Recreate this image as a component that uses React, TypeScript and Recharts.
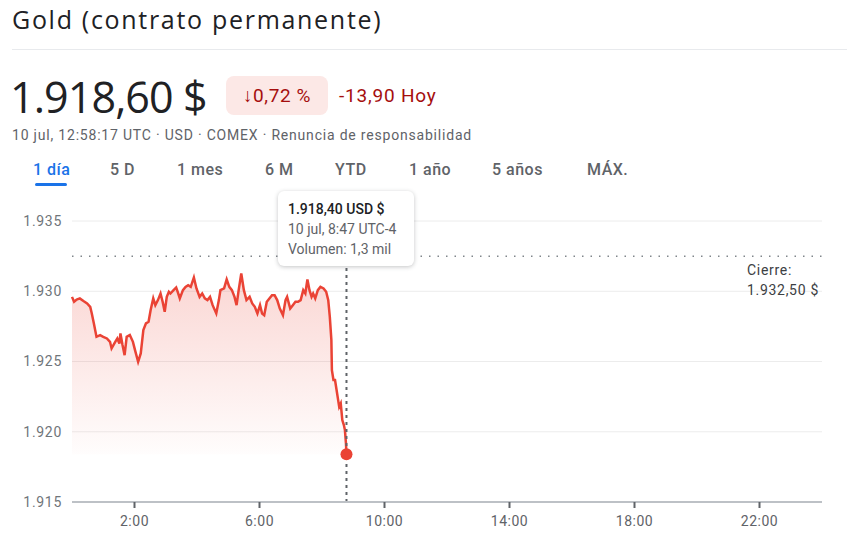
import React from 'react';
import {
  ComposedChart,
  Area,
  XAxis,
  YAxis,
  CartesianGrid,
  ReferenceLine,
  ReferenceDot,
} from 'recharts';

// minutes since 0:00 (10 jul)
const times = [
  0, 4, 9, 15, 22, 29, 35, 38, 42, 47, 54, 60, 67, 73, 76, 83, 87, 91, 93, 97,
  101, 105, 111, 117, 121, 127, 132, 137, 142, 147, 151, 156, 160, 165, 170, 174, 178, 182, 186, 189,
  195, 200, 204, 207, 213, 218, 223, 228, 234, 239, 245, 250, 255, 260, 265, 270, 277, 282, 285, 292,
  297, 302, 307, 312, 316, 320, 325, 330, 335, 341, 346, 351, 356, 361, 365, 369, 374, 379, 384, 389,
  394, 399, 405, 410, 413, 419, 424, 429, 434, 439, 444, 448, 452, 456, 460, 463, 467, 472, 477, 483,
  488, 492, 495, 498, 499, 502, 505, 508, 511, 513, 516, 519, 522, 524, 526, 527,
];

const prices = [
  1929.6, 1929.25, 1929.41, 1929.49, 1929.3, 1929.13, 1928.89, 1928.42, 1927.71, 1926.76,
  1926.88, 1926.76, 1926.64, 1926.4, 1925.93, 1926.4, 1926.64, 1926.28, 1927.0, 1926.17,
  1925.45, 1926.76, 1926.88, 1926.4, 1925.81, 1924.98, 1925.57, 1927.23, 1927.71, 1927.83,
  1928.66, 1929.49, 1929.01, 1929.37, 1929.84, 1929.25, 1928.54, 1929.6, 1929.96, 1929.84,
  1930.08, 1930.27, 1929.84, 1929.49, 1930.08, 1930.31, 1930.43, 1930.31, 1930.98, 1930.2,
  1929.6, 1929.84, 1929.49, 1929.37, 1929.6, 1929.01, 1928.42, 1929.37, 1930.08, 1930.2,
  1930.84, 1930.31, 1930.08, 1929.6, 1929.01, 1930.08, 1931.26, 1930.08, 1929.37, 1929.6,
  1929.13, 1928.89, 1928.42, 1929.01, 1928.42, 1928.3, 1929.25, 1929.49, 1929.72, 1929.72,
  1929.37, 1928.77, 1928.3, 1929.37, 1929.6, 1928.77, 1929.01, 1929.25, 1929.25, 1929.37,
  1930.08, 1929.84, 1930.84, 1930.08, 1929.6, 1929.84, 1929.49, 1930.08, 1930.31, 1930.2,
  1929.96, 1929.37, 1928.18, 1926.52, 1924.39, 1923.68, 1923.68, 1922.97, 1922.25, 1921.78,
  1922.02, 1920.83, 1920.48, 1920.12, 1919.17, 1918.4,
];

const xTicks = [120, 360, 600, 840, 1080, 1320];
const yTicks = [1915, 1920, 1925, 1930, 1935];
const prevClose = 1932.5;

const tabs = ['1 día', '5 D', '1 mes', '6 M', 'YTD', '1 año', '5 años', 'MÁX.'];
const tabX = [33, 110, 177, 265, 335, 409, 492, 587];

const data = times.map((t, i) => ({ t, price: prices[i] }));
const last = data[data.length - 1];

const RED = '#ea4335';
const FONT = 'Roboto, "Open Sans", sans-serif';

export default function App() {
  return (
    <div style={{ position: 'absolute', left: 0, top: 0, width: 847, height: 552, background: '#fff', fontFamily: FONT, overflow: 'hidden' }}>
      <div style={{ position: 'absolute', left: 12, top: 2, fontSize: 25, letterSpacing: 1.7, color: '#202124', fontFamily: '"Open Sans", sans-serif', whiteSpace: 'nowrap' }}>
        Gold (contrato permanente)
      </div>
      <div style={{ position: 'absolute', left: 12, top: 49, width: 835, height: 1, background: '#e8eaed' }} />

      <div style={{ position: 'absolute', left: 10, top: 69, fontSize: 43, letterSpacing: -0.9, color: '#202124', fontFamily: '"Open Sans", sans-serif', whiteSpace: 'nowrap', lineHeight: '56px' }}>
        1.918,60 $
      </div>
      <div style={{ position: 'absolute', left: 226, top: 76, width: 102, height: 39, borderRadius: 8, background: '#fce8e6', color: '#a50e0e', fontSize: 19, letterSpacing: 0.6, lineHeight: '39px', textAlign: 'center', whiteSpace: 'nowrap' }}>
        ↓0,72 %
      </div>
      <div style={{ position: 'absolute', left: 339, top: 76, lineHeight: '39px', color: '#a50e0e', fontSize: 19, letterSpacing: 0.8, whiteSpace: 'nowrap' }}>
        -13,90 Hoy
      </div>
      <div style={{ position: 'absolute', left: 12, top: 126, fontSize: 14, letterSpacing: 0.8, color: '#5f6368', whiteSpace: 'nowrap', lineHeight: '18px' }}>
        10 jul, 12:58:17 UTC · USD · COMEX · Renuncia de responsabilidad
      </div>

      {tabs.map((label, i) => (
        <div key={label} style={{ position: 'absolute', left: tabX[i], top: 160, fontSize: 16, fontWeight: 500, letterSpacing: 0.5, lineHeight: '20px', color: i === 0 ? '#1a73e8' : '#5f6368', whiteSpace: 'nowrap' }}>
          {label}
        </div>
      ))}
      <div style={{ position: 'absolute', left: 35, top: 183, width: 32, height: 3, borderRadius: 2, background: '#1a73e8' }} />

      <div style={{ position: 'absolute', left: 0, top: 190 }}>
        <ComposedChart width={847} height={350} data={data} margin={{ top: 31, right: 25, bottom: 8, left: 0 }}>
          <defs>
            <linearGradient id="goldFill" x1="0" y1="0" x2="0" y2="1">
              <stop offset="0%" stopColor={RED} stopOpacity={0.36} />
              <stop offset="100%" stopColor={RED} stopOpacity={0.02} />
            </linearGradient>
          </defs>
          <CartesianGrid vertical={false} stroke="#ececec" />
          <XAxis
            dataKey="t"
            type="number"
            domain={[0, 1440]}
            ticks={xTicks}
            tickFormatter={(m: number) => `${m / 60}:00`}
            axisLine={{ stroke: '#bdc1c6', strokeWidth: 2 }}
            tickLine={{ stroke: '#5f6368', strokeWidth: 2 }}
            tick={{ fill: '#5f6368', fontSize: 14, fontFamily: FONT, letterSpacing: 0.5 }}
            tickMargin={8}
            height={30}
          />
          <YAxis
            domain={[1915, 1935]}
            ticks={yTicks}
            tickFormatter={(v: number) => '1.' + String(v).slice(1)}
            axisLine={false}
            tickLine={false}
            tick={{ fill: '#70757a', fontSize: 14, fontFamily: FONT, letterSpacing: 0.7 }}
            tickMargin={4}
            width={72}
          />
          <ReferenceLine y={prevClose} stroke="#80868b" strokeWidth={1.5} strokeDasharray="1.5 7" />
          <Area
            type="linear"
            dataKey="price"
            stroke={RED}
            strokeWidth={2.5}
            fill="url(#goldFill)"
            baseValue={last.price}
            dot={false}
            activeDot={false}
            isAnimationActive={false}
          />
          <ReferenceLine x={last.t} stroke="#5f6368" strokeWidth={2} strokeDasharray="3 4" />
          <ReferenceDot x={last.t} y={last.price} r={6} fill={RED} stroke="none" />
        </ComposedChart>
      </div>

      <div style={{ position: 'absolute', left: 747, top: 260, fontSize: 14, letterSpacing: 0.7, color: '#3c4043', lineHeight: '20px', whiteSpace: 'nowrap' }}>
        Cierre:
        <br />
        1.932,50 $
      </div>

      <div style={{ position: 'absolute', left: 278, top: 191, width: 136, height: 75, boxSizing: 'border-box', background: '#fff', borderRadius: 6, boxShadow: '0 1px 4px rgba(60,64,67,0.3)', padding: '8px 0 0 10px', fontSize: 14, lineHeight: '20px', whiteSpace: 'nowrap' }}>
        <div style={{ color: '#202124', fontWeight: 500 }}>1.918,40 USD $</div>
        <div style={{ color: '#5f6368' }}>10 jul, 8:47 UTC-4</div>
        <div style={{ color: '#5f6368' }}>Volumen: 1,3 mil</div>
      </div>
    </div>
  );
}
